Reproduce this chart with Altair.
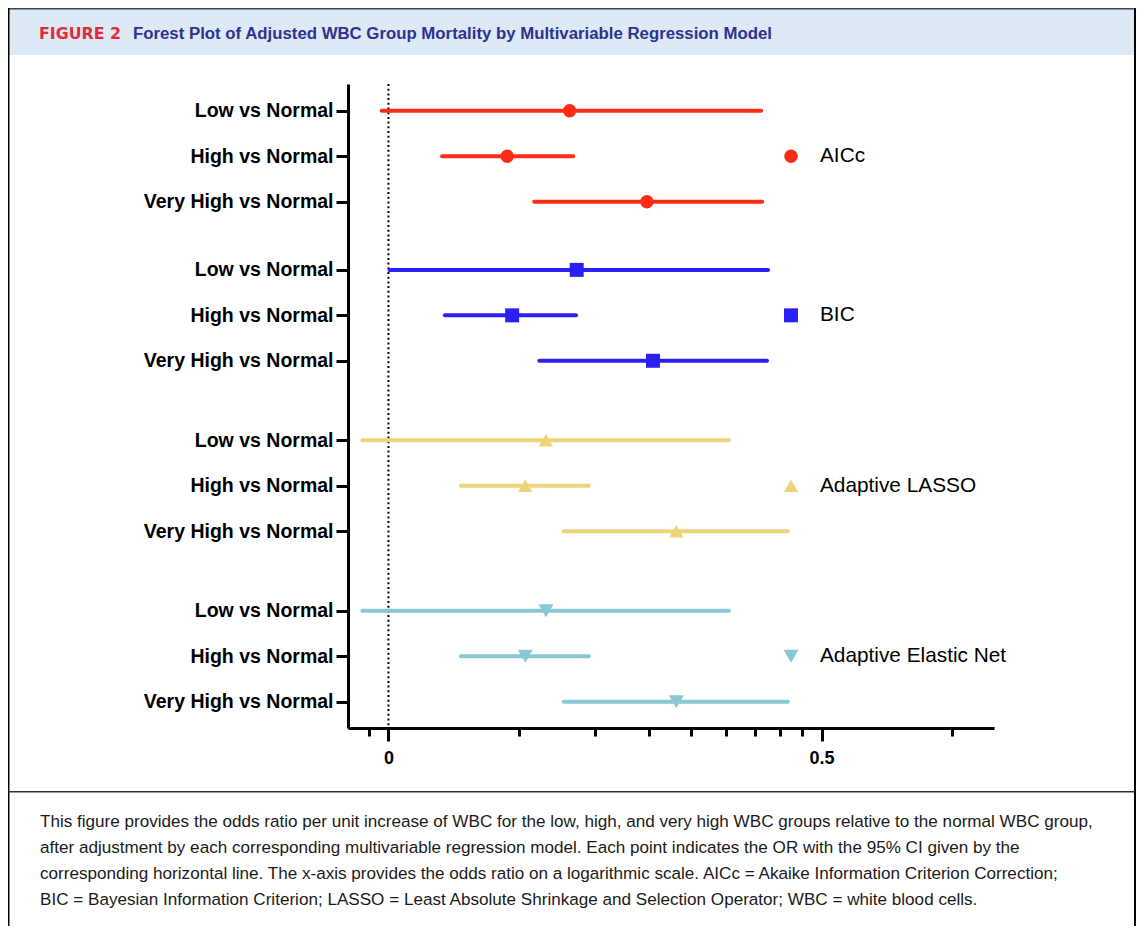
import altair as alt
import pandas as pd

# ---------------- data (x is on a log scale) ----------------
models = ["AICc", "BIC", "Adaptive LASSO", "Adaptive Elastic Net"]
comparisons = ["Low vs Normal", "High vs Normal", "Very High vs Normal"]

aicc_est = [2.62, 1.88, 3.95]
aicc_lo = [0.965, 1.33, 2.17]
aicc_hi = [7.25, 2.67, 7.29]

bic_est = [2.72, 1.93, 4.08]
bic_lo = [1.006, 1.35, 2.23]
bic_hi = [7.52, 2.71, 7.48]

lasso_est = [2.31, 2.07, 4.62]
lasso_lo = [0.871, 1.47, 2.54]
lasso_hi = [6.11, 2.90, 8.36]

enet_est = [2.31, 2.07, 4.62]
enet_lo = [0.871, 1.47, 2.54]
enet_hi = [6.11, 2.90, 8.36]

x_major_ticks = [1, 10]
x_major_labels = ["0", "0.5"]
x_minor_ticks = [0.9, 2, 3, 4, 5, 6, 7, 8, 9, 20]
reference_value = [1]

header_tag = "FIGURE 2"
header_title = "Forest Plot of Adjusted WBC Group Mortality by Multivariable Regression Model"
caption_lines = [
    "This figure provides the odds ratio per unit increase of WBC for the low, high, and very high WBC groups relative to the normal WBC group,",
    "after adjustment by each corresponding multivariable regression model. Each point indicates the OR with the 95% CI given by the",
    "corresponding horizontal line. The x-axis provides the odds ratio on a logarithmic scale. AICc = Akaike Information Criterion Correction;",
    "BIC = Bayesian Information Criterion; LASSO = Least Absolute Shrinkage and Selection Operator; WBC = white blood cells.",
]

# ---------------- styles / layout ----------------
colors = ["#fe2c16", "#2a20f4", "#eed57b", "#8ac7d5"]
shapes = ["circle", "square", "triangle-up", "triangle-down"]
marker_sizes = [180, 225, 270, 270]
group_gap = [0, 0.5, 0.75, 0.75]  # extra vertical space (in row steps) before each group

W, H = 646, 644
PAD = {"left": 340, "top": 76, "right": 142, "bottom": 198}
FONT = "Liberation Sans"

est_all = [aicc_est, bic_est, lasso_est, enet_est]
lo_all = [aicc_lo, bic_lo, lasso_lo, enet_lo]
hi_all = [aicc_hi, bic_hi, lasso_hi, enet_hi]

rows = []
pos = -1.0
for gi, m in enumerate(models):
    pos += group_gap[gi]
    for ri, c in enumerate(comparisons):
        pos += 1
        rows.append({"model": m, "comparison": c, "pos": pos,
                     "est": est_all[gi][ri], "lo": lo_all[gi][ri], "hi": hi_all[gi][ri],
                     "middle": ri == 1})
df = pd.DataFrame(rows)
pos_values = list(df["pos"])
label_expr = " : ".join(
    [f"datum.value == {p} ? '{c}'" for p, c in zip(df["pos"], df["comparison"])]
) + " : ''"
x_label_expr = " : ".join(
    [f"datum.value == {v} ? '{t}'" for v, t in zip(x_major_ticks, x_major_labels)]
) + " : ''"

y_scale = alt.Scale(domain=[-0.59, pos_values[-1] + 0.58], reverse=True, nice=False, zero=False)
x_scale = alt.Scale(type="log", domain=[0.8065, 25], nice=False)
color_scale = alt.Scale(domain=models, range=colors)
shape_scale = alt.Scale(domain=models, range=shapes)
size_scale = alt.Scale(domain=models, range=marker_sizes)

y_axis = alt.Axis(values=pos_values, labelExpr=label_expr, tickSize=12, tickWidth=3,
                  tickColor="black", domainWidth=3, domainColor="black", grid=False,
                  labelFont=FONT, labelFontSize=19.5, labelFontWeight="bold",
                  labelColor="black", labelPadding=3, labelOverlap=False,
                  labelLimit=400, title=None)
y_enc = alt.Y("pos:Q", scale=y_scale, axis=y_axis)

base = alt.Chart(df)

ci = base.mark_rule(strokeWidth=4, strokeCap="round").encode(
    x=alt.X("lo:Q", scale=x_scale, title=None,
            axis=alt.Axis(values=x_major_ticks, labelExpr=x_label_expr, orient="bottom",
                          tickSize=13, tickWidth=3, tickColor="black",
                          domainWidth=3, domainColor="black", grid=False,
                          labelFont=FONT, labelFontSize=18, labelFontWeight="bold",
                          labelColor="black", labelPadding=8, labelFlush=False,
                          labelOverlap=False)),
    x2="hi:Q",
    y=y_enc,
    color=alt.Color("model:N", scale=color_scale, legend=None),
)

ref_df = pd.DataFrame({"ref": reference_value})
ref = alt.Chart(ref_df).mark_rule(color="black", strokeWidth=2, strokeDash=[2, 2.7]).encode(
    x=alt.X("ref:Q", scale=x_scale, title=None,
            axis=alt.Axis(values=x_minor_ticks, labels=False, domain=False, orient="bottom",
                          tickSize=8, tickWidth=3, tickColor="black", grid=False)),
)

pts = base.mark_point(filled=True, opacity=1).encode(
    x=alt.X("est:Q", scale=x_scale, axis=None),
    y=y_enc,
    color=alt.Color("model:N", scale=color_scale, legend=None),
    shape=alt.Shape("model:N", scale=shape_scale, legend=None),
    size=alt.Size("model:N", scale=size_scale, legend=None),
)

leg_pts = base.transform_filter("datum.middle").mark_point(filled=True, opacity=1).encode(
    x=alt.value(443),
    y=y_enc,
    color=alt.Color("model:N", scale=color_scale, legend=None),
    shape=alt.Shape("model:N", scale=shape_scale, legend=None),
    size=alt.Size("model:N", scale=size_scale, legend=None),
)
leg_txt = base.transform_filter("datum.middle").mark_text(
    align="left", baseline="middle", font=FONT, fontSize=20.8, color="black"
).encode(
    x=alt.value(472),
    y=y_enc,
    text="model:N",
)

# ---------------- figure frame, header and caption ----------------
one = pd.DataFrame({"k": [0]})
frame_left, frame_right = -339.5, 787
band = alt.Chart(one).mark_rect(color="#dde9f5").encode(
    x=alt.value(frame_left), x2=alt.value(frame_right), y=alt.value(-76), y2=alt.value(-29))
top_line = alt.Chart(one).mark_rule(color="#444444", strokeWidth=2).encode(
    x=alt.value(frame_left), x2=alt.value(frame_right), y=alt.value(-75.5))
left_line = alt.Chart(one).mark_rule(color="black", strokeWidth=2).encode(
    x=alt.value(frame_left), y=alt.value(-76), y2=alt.value(H + PAD["bottom"]))
right_line = alt.Chart(one).mark_rule(color="black", strokeWidth=2).encode(
    x=alt.value(frame_right), y=alt.value(-76), y2=alt.value(H + PAD["bottom"]))
divider = alt.Chart(one).mark_rule(color="#333333", strokeWidth=1.5).encode(
    x=alt.value(frame_left), x2=alt.value(frame_right), y=alt.value(707.7))

tag = alt.Chart(one).mark_text(
    text=header_tag, align="left", baseline="alphabetic", font="DejaVu Sans",
    fontWeight="bold", fontSize=15.8, color="#e32a3c"
).encode(x=alt.value(-309), y=alt.value(-45))
title = alt.Chart(one).mark_text(
    text=header_title, align="left", baseline="alphabetic", font=FONT,
    fontWeight="bold", fontSize=16.8, color="#2e3192"
).encode(x=alt.value(-215), y=alt.value(-45))
caption = alt.Chart(one).mark_text(
    text=caption_lines, align="left", baseline="top", font=FONT, fontSize=17.1,
    lineHeight=26, color="#1a1a1a"
).encode(x=alt.value(-308), y=alt.value(729))

chart = alt.layer(
    band, top_line, left_line, right_line, divider, tag, title, caption,
    ref, ci, pts, leg_pts, leg_txt
).resolve_axis(x="independent").properties(
    width=W, height=H, padding=PAD,
    autosize=alt.AutoSizeParams(type="none"),
    background="white",
).configure_view(stroke=None)

chart.save("out.html", embed_options={"renderer": "svg", "actions": False})
